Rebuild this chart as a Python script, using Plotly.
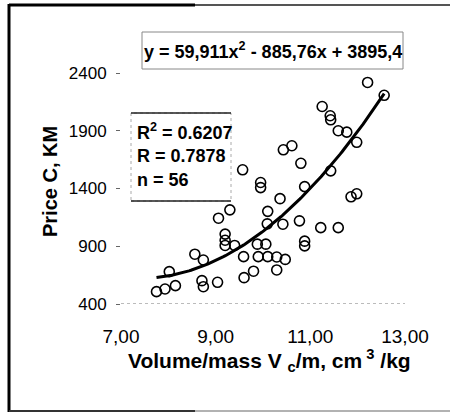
import numpy as np
import plotly.graph_objects as go

# Volume/mass (cm3/kg) and price (KM)
volume = [12.21, 12.56, 11.25, 11.42, 11.43, 11.59, 11.77, 11.98, 10.61, 10.43,
          10.80, 9.57, 11.43, 9.95, 9.95, 10.88, 10.36, 11.98, 11.86, 9.30,
          9.06, 10.10, 10.77, 10.09, 10.42, 11.22, 11.59, 9.20, 9.20, 9.20,
          9.40, 9.88, 10.06, 10.88, 10.88, 8.56, 8.74, 9.59, 9.90, 10.10,
          10.29, 10.47, 10.29, 9.80, 9.60, 8.02, 8.71, 8.74, 9.04, 8.15,
          7.93, 7.75]
price = [2318, 2207, 2110, 2030, 1995, 1900, 1888, 1800, 1770, 1735,
         1618, 1562, 1553, 1452, 1408, 1416, 1312, 1354, 1328, 1215,
         1143, 1202, 1120, 1094, 1091, 1061, 1061, 1005, 952, 907,
         907, 918, 918, 944, 903, 831, 781, 810, 810, 810,
         807, 786, 695, 684, 628, 680, 602, 550, 588, 559,
         530, 507]

# Trendline coefficients as printed on the chart
trend_coef = [59.911, -885.76, 3895.4]
eq_text = "y = 59,911x<sup>2</sup> - 885,76x + 3895,4"
stats_lines = ["R<sup>2</sup> = 0.6207", "R = 0.7878", "n = 56"]

x_ticks = [7, 9, 11, 13]
x_tick_text = ["7,00", "9,00", "11,00", "13,00"]
y_ticks = [400, 900, 1400, 1900, 2400]

FONT = "Liberation Sans, Arial, sans-serif"

tx = np.linspace(min(volume), max(volume), 120)
ty = np.polyval(trend_coef, tx)

fig = go.Figure()
fig.add_trace(go.Scatter(
    x=volume, y=price, mode="markers",
    marker=dict(symbol="circle-open", size=10, color="black",
                line=dict(width=1.6, color="black")),
    showlegend=False, hoverinfo="x+y"))
fig.add_trace(go.Scatter(
    x=tx, y=ty, mode="lines", line=dict(color="black", width=3),
    showlegend=False, hoverinfo="skip"))

L, R, T, B = 121, 45, 73, 110
W, H = 450, 414
pw, ph = W - L - R, H - T - B


def px(xp):
    return (xp - L) / pw


def py(yp):
    return (H - B - yp) / ph


shapes = []
# x-axis dotted line at 400
shapes.append(dict(type="line", xref="x", yref="y", x0=7, x1=13, y0=400, y1=400,
                   line=dict(color="#777777", width=1, dash="dot")))
# outer frame (scanned box)
shapes.append(dict(type="line", xref="paper", yref="paper",
                   x0=px(9), x1=px(195), y0=py(5), y1=py(5),
                   line=dict(color="black", width=3)))
shapes.append(dict(type="line", xref="paper", yref="paper",
                   x0=px(195), x1=px(450), y0=py(5), y1=py(5),
                   line=dict(color="#555555", width=2)))
shapes.append(dict(type="line", xref="paper", yref="paper",
                   x0=px(9), x1=px(9), y0=py(4), y1=py(412),
                   line=dict(color="black", width=3)))
shapes.append(dict(type="line", xref="paper", yref="paper",
                   x0=px(9), x1=px(195), y0=py(411), y1=py(411),
                   line=dict(color="#333333", width=2)))
shapes.append(dict(type="line", xref="paper", yref="paper",
                   x0=px(195), x1=px(450), y0=py(411), y1=py(411),
                   line=dict(color="#999999", width=1.5)))
# equation box
shapes.append(dict(type="rect", xref="paper", yref="paper",
                   x0=px(142), x1=px(403), y0=py(69), y1=py(32),
                   line=dict(color="#888888", width=1)))
# stats box
shapes.append(dict(type="rect", xref="paper", yref="paper",
                   x0=px(131), x1=px(231), y0=py(201), y1=py(113),
                   line=dict(color="#aaaaaa", width=1, dash="dot")))
shapes.append(dict(type="line", xref="paper", yref="paper",
                   x0=px(131), x1=px(231), y0=py(113), y1=py(113),
                   line=dict(color="#222222", width=1.5)))
shapes.append(dict(type="line", xref="paper", yref="paper",
                   x0=px(131), x1=px(231), y0=py(201), y1=py(201),
                   line=dict(color="#222222", width=1.5)))

annotations = []
annotations.append(dict(text="<b>" + eq_text + "</b>", xref="paper", yref="paper",
                        x=px(272.5), y=py(51), xanchor="center", yanchor="middle",
                        showarrow=False, font=dict(family=FONT, size=18, color="black")))
for line_txt, yp in zip(stats_lines, [131.5, 156, 180]):
    annotations.append(dict(text="<b>" + line_txt + "</b>", xref="paper", yref="paper",
                            x=px(135), y=py(yp), xanchor="left", yanchor="middle",
                            showarrow=False,
                            font=dict(family=FONT, size=18, color="black")))
annotations.append(dict(text="<b>Price C, KM</b>", xref="paper", yref="paper",
                        x=px(50), y=py(182), xanchor="center", yanchor="middle",
                        textangle=-90, showarrow=False,
                        font=dict(family=FONT, size=20, color="black")))
annotations.append(dict(text="<b>Volume/mass V <sub>c</sub>/m, cm<sup> 3</sup> /kg</b>",
                        xref="paper", yref="paper",
                        x=px(269), y=py(360), xanchor="center", yanchor="middle",
                        showarrow=False,
                        font=dict(family=FONT, size=21, color="black")))

fig.update_layout(
    width=W, height=H,
    margin=dict(l=L, r=R, t=T, b=B, autoexpand=False),
    paper_bgcolor="white", plot_bgcolor="white",
    shapes=shapes, annotations=annotations,
    xaxis=dict(range=[7, 13], tickvals=x_ticks, ticktext=x_tick_text,
               showgrid=False, zeroline=False, showline=False, ticks="",
               ticklabelstandoff=19,
               tickfont=dict(family=FONT, size=19, color="black")),
    yaxis=dict(range=[400, 2400], tickvals=y_ticks,
               showgrid=False, zeroline=False, showline=False,
               ticks="outside", ticklen=4, tickcolor="#666666", tickwidth=1,
               ticklabelstandoff=6,
               tickfont=dict(family=FONT, size=17, color="black")),
)

fig.write_html(
    "out.html", config={"displayModeBar": False},
    post_script=("document.body.style.margin='0';"
                 "document.body.style.overflow='hidden';"
                 "document.documentElement.style.overflow='hidden';"))
